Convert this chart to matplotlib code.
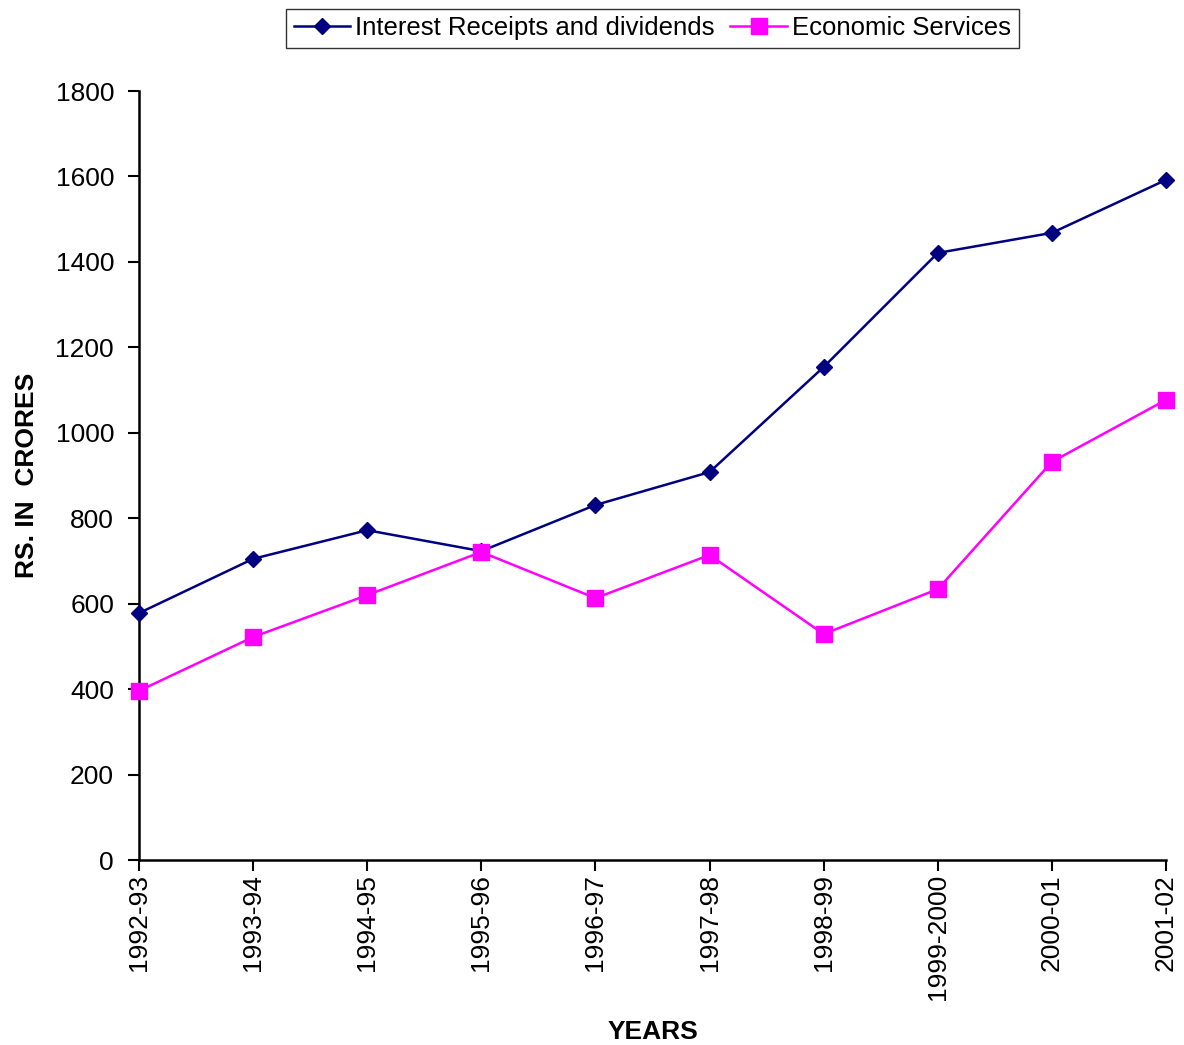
import numpy as np
import matplotlib
matplotlib.use('Agg')
import matplotlib.pyplot as plt

# --- DATA
years = ["1992-93", "1993-94", "1994-95", "1995-96", "1996-97",
         "1997-98", "1998-99", "1999-2000", "2000-01", "2001-02"]
interest = [578, 705, 772, 723, 831, 908, 1154, 1421, 1468, 1592]
economic = [396, 522, 620, 721, 613, 714, 529, 634, 932, 1077]

plt.rcParams['font.family'] = ['Liberation Sans', 'DejaVu Sans']

fig = plt.figure(figsize=(11.84, 10.45), dpi=100)
ax = fig.add_axes([0.1174, 0.177, 0.8674, 0.7359])

x = np.arange(len(years))
ax.plot(x, interest, color='#000080', marker='D', ms=8.5, lw=1.8,
        label='Interest Receipts and dividends', clip_on=False, zorder=3)
ax.plot(x, economic, color='#FF00FF', marker='s', ms=11, lw=1.8,
        label='Economic Services', clip_on=False, zorder=3)

ax.set_xlim(0, 9)
ax.set_ylim(0, 1800)
ax.set_yticks(np.arange(0, 1801, 200))
ax.set_xticks(x)
ax.set_xticklabels(years, rotation=90)
ax.tick_params(axis='both', labelsize=19, width=1.5, length=8, color='black')
ax.tick_params(axis='x', pad=2)
ax.tick_params(axis='y', pad=10)
ax.spines['top'].set_visible(False)
ax.spines['right'].set_visible(False)
ax.spines['left'].set_linewidth(1.8)
ax.spines['bottom'].set_linewidth(1.8)

ax.set_ylabel("RS. IN  CRORES", fontsize=19, fontweight='bold', labelpad=12)
ax.set_xlabel("YEARS", fontsize=19, fontweight='bold', labelpad=14)

leg = fig.legend(loc='upper center', bbox_to_anchor=(0.551, 1.004), ncol=2,
                 fontsize=18.5, frameon=True, fancybox=False, handlelength=2.2,
                 handletextpad=0.2, columnspacing=0.6, borderpad=0.3)
leg.get_frame().set_edgecolor('black')
leg.get_frame().set_linewidth(1.0)

fig.savefig("out.png", dpi=100)
